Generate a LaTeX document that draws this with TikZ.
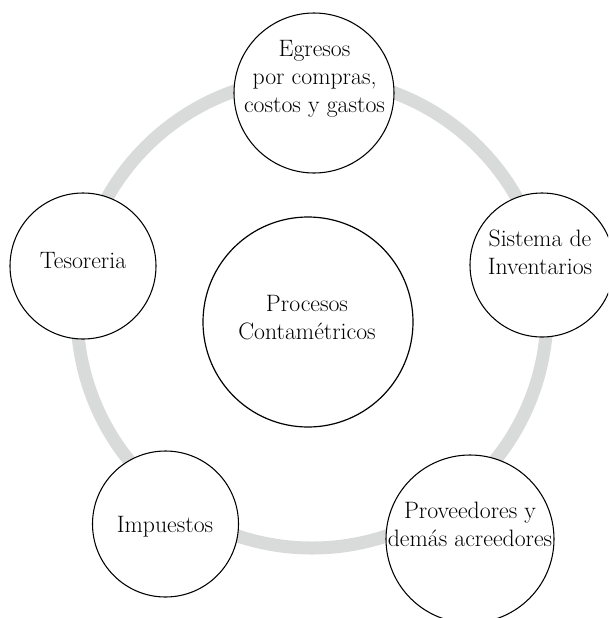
\documentclass[tikz,border=0pt]{standalone}
\usepackage{fontspec}
\usepackage{tikz}
\usetikzlibrary{positioning}
\definecolor{ringgray}{RGB}{217,219,218}
\tikzset{
    bubble/.style={circle,draw=black,fill=white,line width=0.8pt,inner sep=0pt,minimum size=#1},
    bubbletext/.style={align=center,inner sep=0pt,font=\fontsize{17.8}{21}\selectfont},
}

\begin{document}
\begin{tikzpicture}[x=0.75pt,y=-0.75pt]
    \clip (0,0) rectangle (608,618);
    \coordinate (M) at (312,313);
    % grey ring behind the circles
    \draw[ringgray,line width=9.75pt] (M) circle [radius=176.25pt];

    \node[bubble=120pt] (egresos) at (314,93) {};
    \node[bubble=108pt] (sistema) at (542,265) {};
    \node[bubble=109.5pt] (tesoreria) at (83,266) {};
    \node[bubble=109.5pt] (impuestos) at (165.5,524) {};
    \node[bubble=126pt] (proveedores) at (470,539) {};
    \node[bubble=157.5pt,line width=0.9pt] (procesos) at (308,322) {};

    \node[bubbletext] (egresosT) at (314.5,78.7) {Egresos\\por compras,\\costos y gastos};
    \node[bubbletext] (sistemaT) at (540,252.4) {Sistema de\\Inventarios};
    \node[bubbletext] (tesoreriaT) at (83,260.2) {Tesoreria};
    \node[bubbletext] (impuestosT) at (165,527.2) {Impuestos};
    \node[bubbletext] (proveedoresT) at (470,524.8) {Proveedores y\\demás acreedores};
    \node[bubbletext] (procesosT) at (307,317.6) {Procesos\\Contamétricos};
\end{tikzpicture}
\end{document}
